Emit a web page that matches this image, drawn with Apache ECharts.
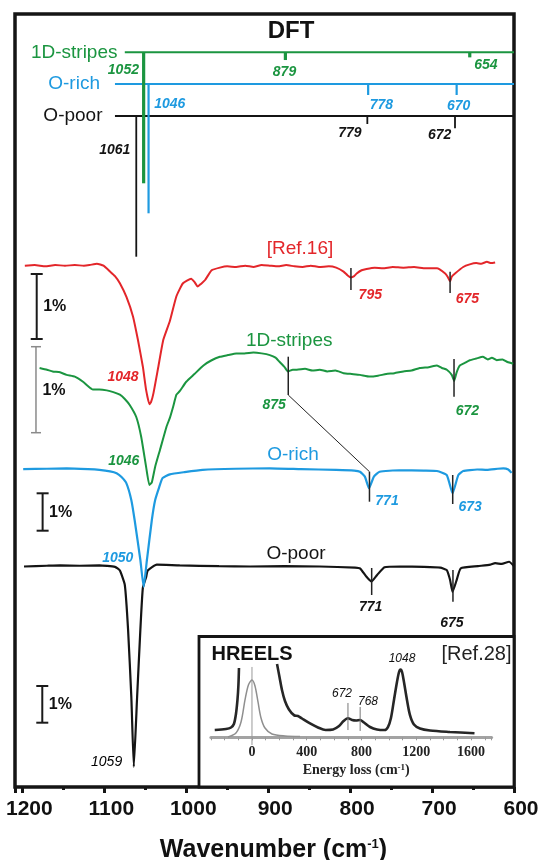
<!DOCTYPE html>
<html><head><meta charset="utf-8">
<script src="https://cdn.jsdelivr.net/npm/echarts@6/dist/echarts.min.js"></script>
<style>html,body{margin:0;padding:0;background:#fff}#c{width:540px;height:860px}</style>
</head><body><div id="c"></div>
<script>
// ---------------- DATA ----------------
const xTickLabels = [1200, 1100, 1000, 900, 800, 700, 600];
const hreelsTickLabels = [0, 400, 800, 1200, 1600];

// IR spectra: wavenumber (cm-1) and transmittance change (%) relative to the trace baseline
const ref16Wn = [1197,1185,1172,1160,1148,1136,1125,1118,1109,1101,1093,1087,1081,1073,1065,1059,1053,1049,1045,1043,1040,1034,1028,1020,1012,1004,994,990,986,982,977,969,959,950,939,928,918,908,898,888,878,868,858,848,838,826,817,808,803,799,795,792,786,780,770,760,748,735,722,708,694,684,681,678,676,672,662,654,646,640,633,628,623];
const ref16Pct = [0.00,0.01,-0.01,0.01,0.00,0.01,0.00,0.01,0.03,0.00,-0.09,-0.16,-0.27,-0.48,-0.78,-1.14,-1.55,-1.91,-2.13,-2.10,-1.96,-1.55,-1.14,-0.85,-0.47,-0.27,-0.20,-0.25,-0.32,-0.28,-0.22,-0.07,-0.03,-0.01,-0.02,0.00,-0.02,0.01,0.00,-0.01,0.01,-0.01,-0.02,0.00,-0.02,-0.01,-0.03,-0.09,-0.15,-0.18,-0.16,-0.12,-0.07,-0.05,-0.03,-0.04,-0.02,-0.03,-0.02,-0.04,-0.04,-0.12,-0.17,-0.24,-0.17,-0.12,-0.02,0.02,0.04,0.03,0.06,0.04,0.05];

const stripesWn = [1179,1170,1163,1154,1146,1136,1126,1120,1114,1106,1097,1089,1081,1075,1069,1061,1055,1049,1045,1042,1038,1032,1024,1020,1016,1012,1008,1000,990,979,969,959,949,939,929,918,908,898,891,886,880,876,870,865,855,846,837,828,818,808,798,788,776,766,756,746,735,725,715,704,694,688,682,676,673,670,666,660,654,646,638,632,627,621,614,608,601];
const stripesPct = [0.00,-0.02,-0.04,-0.05,-0.08,-0.10,-0.16,-0.21,-0.25,-0.25,-0.26,-0.28,-0.31,-0.36,-0.43,-0.57,-0.80,-1.15,-1.36,-1.33,-1.15,-0.95,-0.68,-0.58,-0.45,-0.31,-0.27,-0.16,-0.07,0.03,0.09,0.13,0.15,0.17,0.17,0.18,0.17,0.15,0.12,0.07,0.01,-0.04,-0.02,-0.02,-0.01,-0.03,-0.02,-0.04,-0.03,-0.06,-0.07,-0.08,-0.10,-0.09,-0.07,-0.06,-0.04,-0.03,0.00,0.01,0.03,0.00,-0.02,-0.08,-0.15,-0.05,0.03,0.06,0.09,0.11,0.13,0.10,0.12,0.09,0.10,0.07,0.05];

const oRichWn = [1199,1170,1146,1120,1106,1093,1085,1079,1073,1067,1063,1056,1052,1048,1042,1038,1033,1029,1020,1002,980,940,898,860,817,795,788,782,777,771,764,740,710,694,682,675,668,662,645,633,620,613,607,603];
const oRichPct = [0.01,0.02,0.03,0.01,-0.01,-0.05,-0.10,-0.20,-0.37,-0.82,-1.35,-2.42,-3.14,-2.42,-1.35,-0.82,-0.47,-0.23,-0.13,-0.07,-0.01,0.02,0.03,0.01,-0.01,-0.03,-0.06,-0.19,-0.50,-0.19,-0.06,-0.02,-0.03,-0.04,-0.15,-0.64,-0.15,-0.04,0.00,-0.01,0.02,0.03,0.00,-0.09];

const oPoorWn = [1198,1170,1154,1130,1106,1087,1081,1075,1071,1067,1064,1060,1056,1053,1049,1047,1036,1008,960,922,880,837,794,788,780,774,767,758,739,710,690,682,678,675,670,665,644,629,623,615,606,600];
const oPoorPct = [0.00,0.02,0.03,0.02,0.03,-0.01,-0.11,-0.50,-1.72,-3.57,-5.46,-3.57,-1.72,-0.59,-0.29,-0.11,0.05,0.03,0.01,0.00,0.01,0.00,-0.03,-0.05,-0.28,-0.41,-0.23,-0.02,0.00,-0.01,-0.03,-0.10,-0.37,-0.69,-0.37,-0.05,0.01,0.05,0.09,0.07,0.13,0.01];

// main peak labels of the measured spectra
const ref16Peaks = [1048, 795, 675];
const stripesPeaks = [1046, 875, 672];
const oRichPeaks = [1050, 771, 673];
const oPoorPeaks = [1059, 771, 675];
// wavenumbers where the peak marker lines are drawn
const ref16MarkWn = [799, 678];
const stripesMarkWn = [875.5, 673.2];
const oRichMarkWn = [776.4, 674.8];
const oPoorMarkWn = [773.7, 674.5];

// DFT stick spectra: frequencies (cm-1) and relative intensities
const dftStripesFreq = [1052, 879, 654];
const dftStripesInt = [93.1, 5.5, 3.6];
const dftORichFreq = [1046, 778, 670];
const dftORichInt = [91.9, 7.8, 7.8];
const dftOPoorFreq = [1061, 779, 672];
const dftOPoorInt = [100, 5.7, 8.7];

// HREELS inset (energy loss cm-1, intensity arb. units)
const hreelsE1 = [-272,-190,-153,-132,-117,-106,-99,-95];
const hreelsI1 = [9.4,10.7,12.7,17.2,30.2,48.3,67.7,89.7];
const hreelsE2 = [183,201,219,241,270,310,336,365,424,482,538,592,636,665,701,731,760,789,818,862,913,968,993,1015,1037,1059,1074,1085,1096,1110,1132,1154,1183,1227,1300,1446,1625];
const hreelsI2 = [94.8,78.0,61.2,47.0,36.0,28.2,27.6,24.3,17.9,12.7,9.4,10.1,14.6,20.4,24.6,22.4,21.7,22.4,19.1,13.3,10.1,9.4,13.3,25.0,48.3,71.5,84.5,87.7,84.5,71.5,48.3,28.8,16.6,11.4,8.8,6.9,5.2];
const elasticE = [-175,-117,-80,-51,-26,0,22,44,66,95,146,241,351];
const elasticI = [0.4,5.6,19.8,48.3,67.7,74.1,66.4,45.7,25.0,12.0,4.3,1.7,1.0];
const hreelsPeakLabels = [672, 768, 1048];
const hreelsMarkE = [701, 790];

// ---------------- LAYOUT / STYLE ----------------
const RED = '#e3262a', GREEN = '#1b9540', BLUE = '#1e9ae0', BLACK = '#141414';
const SANS = 'Liberation Sans', SERIF = 'Liberation Serif';
const LAY = {
  ref16:   {base: 521.3, scale: 65},
  stripes: {base: 419,   scale: 86},
  oRich:   {base: 317.5, scale: 37.4},
  oPoor:   {base: 220.5, scale: 36.7}
};
const DFT_SCALE = 1.407;
const DFT_LAY = {
  stripes: {base: 734.7, start: 1075, color: GREEN, stickW: 3.2},
  oRich:   {base: 703,   start: 1087, color: BLUE,  stickW: 2.2},
  oPoor:   {base: 671,   start: 1087, color: BLACK, stickW: 1.8}
};

const series = [];

function trace(wn, pct, lay, color, width) {
  series.push({type: 'line', xAxisIndex: 0, yAxisIndex: 0, silent: true, symbol: 'none', smooth: 0.15,
    data: wn.map((w, i) => [w, lay.base + pct[i] * lay.scale]),
    lineStyle: {color: color, width: width}, z: 3});
}
function segs(data, color, width, xi, z) {
  series.push({type: 'custom', xAxisIndex: xi || 0, yAxisIndex: xi || 0, silent: true, z: z || 4,
    data: data, encode: {x: 0, y: [1, 2]},
    renderItem: function (p, api) {
      const a = api.coord([api.value(0), api.value(1)]);
      const b = api.coord([api.value(0), api.value(2)]);
      return {type: 'line', shape: {x1: a[0], y1: a[1], x2: b[0], y2: b[1]},
        style: {stroke: color, lineWidth: width}};
    }});
}
const labelItems = [];
function lbl(x, y, text, st, pos, xi) {
  labelItems.push({xi: xi || 0, item: {value: [x, y], label: Object.assign({show: true, formatter: String(text),
    position: pos || 'inside', distance: 0, fontFamily: SANS, opacity: 1}, st)}});
}
const numSt = c => ({color: c, fontSize: 14, fontWeight: 'bold', fontStyle: 'italic'});
const nameSt = c => ({color: c, fontSize: 19});

// measured traces
trace(ref16Wn, ref16Pct, LAY.ref16, RED, 2);
trace(stripesWn, stripesPct, LAY.stripes, GREEN, 2);
trace(oPoorWn, oPoorPct, LAY.oPoor, BLACK, 2.2);
trace(oRichWn, oRichPct, LAY.oRich, BLUE, 2.2);

// peak marker lines [wn, top, bottom] (offsets relative to baselines)
const mk = [
  [ref16MarkWn[0], LAY.ref16.base - 2.3, LAY.ref16.base - 24.3],
  [ref16MarkWn[1], LAY.ref16.base - 6, LAY.ref16.base - 27.3],
  [stripesMarkWn[0], LAY.stripes.base + 11.3, LAY.stripes.base - 27],
  [stripesMarkWn[1], LAY.stripes.base + 9, LAY.stripes.base - 28.7],
  [oRichMarkWn[0], LAY.oRich.base - 2.2, LAY.oRich.base - 32.2],
  [oRichMarkWn[1], LAY.oRich.base - 5.5, LAY.oRich.base - 34.5],
  [oPoorMarkWn[0], LAY.oPoor.base - 1.5, LAY.oPoor.base - 28.5],
  [oPoorMarkWn[1], LAY.oPoor.base - 3.5, LAY.oPoor.base - 35.2]
];
segs(mk, '#222', 1.5);
// connector between 875 (1D-stripes) and 771 (O-rich)
series.push({type: 'line', silent: true, symbol: 'none', z: 4,
  data: [[mk[2][0], mk[2][2]], [mk[4][0], mk[4][1]]], lineStyle: {color: '#222', width: 1}});

// DFT stick spectra
[[dftStripesFreq, dftStripesInt, DFT_LAY.stripes], [dftORichFreq, dftORichInt, DFT_LAY.oRich], [dftOPoorFreq, dftOPoorInt, DFT_LAY.oPoor]].forEach(function (d) {
  const L = d[2];
  series.push({type: 'line', silent: true, symbol: 'none', z: 3,
    data: [[L.start, L.base], [600, L.base]], lineStyle: {color: L.color, width: 2}});
  segs(d[0].map((f, i) => [f, L.base, L.base - d[1][i] * DFT_SCALE]), L.color, L.stickW);
});

// 1% scale bars
const bars = [
  {w: 1182.5, top: 513, lay: LAY.ref16, color: '#1a1a1a', lw: 2, cap: 6},
  {w: 1183.4, top: 440.3, lay: LAY.stripes, color: '#8a8a8a', lw: 1.5, cap: 5},
  {w: 1175.3, top: 293.7, lay: LAY.oRich, color: '#1a1a1a', lw: 2, cap: 6},
  {w: 1175.7, top: 101, lay: LAY.oPoor, color: '#1a1a1a', lw: 2, cap: 6}
];
bars.forEach(function (b) {
  series.push({type: 'custom', silent: true, z: 4, data: [[b.w, b.top, b.top - 1 * b.lay.scale]], encode: {x: 0, y: [1, 2]},
    renderItem: function (p, api) {
      const a = api.coord([api.value(0), api.value(1)]);
      const c = api.coord([api.value(0), api.value(2)]);
      const st = {stroke: b.color, lineWidth: b.lw};
      return {type: 'group', children: [
        {type: 'line', shape: {x1: a[0], y1: a[1], x2: c[0], y2: c[1]}, style: st},
        {type: 'line', shape: {x1: a[0] - b.cap, y1: a[1], x2: a[0] + b.cap, y2: a[1]}, style: st},
        {type: 'line', shape: {x1: c[0] - b.cap, y1: c[1], x2: c[0] + b.cap, y2: c[1]}, style: st}]};
    }});
  lbl(b.w - 22, b.top - b.lay.scale / 2 - 0.5, '1%', {color: '#111', fontSize: 16, fontWeight: 'bold'});
});

// labels: DFT section
lbl(872.2, 755.3, 'DFT', {color: '#111', fontSize: 24, fontWeight: 'bold'});
lbl(1083.3, DFT_LAY.stripes.base, '1D-stripes', nameSt(GREEN), 'left');
lbl(1104.7, DFT_LAY.oRich.base, 'O-rich', nameSt(BLUE), 'left');
lbl(1101.6, DFT_LAY.oPoor.base, 'O-poor', nameSt(BLACK), 'left');
[[1076.7, 717], [880.1, 715.3], [634.2, 722]].forEach((p, i) => lbl(p[0], p[1], dftStripesFreq[i], numSt(GREEN)));
[[1020.1, 683], [761.8, 682], [667.6, 681]].forEach((p, i) => lbl(p[0], p[1], dftORichFreq[i], numSt(BLUE)));
[[1087.3, 637], [800.2, 653.7], [690.7, 652]].forEach((p, i) => lbl(p[0], p[1], dftOPoorFreq[i], numSt(BLACK)));

// labels: measured spectra
lbl(861.2, 538.7, '[Ref.16]', nameSt(RED));
lbl(874.4, 446, '1D-stripes', nameSt(GREEN));
lbl(869.7, 332, 'O-rich', nameSt(BLUE));
lbl(866.1, 233.7, 'O-poor', nameSt(BLACK));
[[1077.2, 409.7], [775.4, 492], [656.8, 488]].forEach((p, i) => lbl(p[0], p[1], ref16Peaks[i], numSt(RED)));
[[1076.3, 326.3], [892.7, 382], [656.8, 376]].forEach((p, i) => lbl(p[0], p[1], stripesPeaks[i], numSt(GREEN)));
[[1083.5, 228.7], [755.0, 286.3], [653.5, 279.7]].forEach((p, i) => lbl(p[0], p[1], oRichPeaks[i], numSt(BLUE)));
[[1097.2, 25.3], [775.0, 180.3], [675.7, 163.7]].forEach((p, i) => lbl(p[0], p[1], oPoorPeaks[i], i === 0 ? {color: '#000', fontSize: 14, fontStyle: 'italic'} : numSt(BLACK)));

// ---------------- HREELS inset ----------------
series.push({type: 'line', xAxisIndex: 1, yAxisIndex: 1, silent: true, symbol: 'none', smooth: 0.3, z: 6,
  data: elasticE.map((e, i) => [e, elasticI[i]]), lineStyle: {color: '#8f8f8f', width: 1.5}});
series.push({type: 'line', xAxisIndex: 1, yAxisIndex: 1, silent: true, symbol: 'none', smooth: 0.3, z: 6,
  data: hreelsE1.map((e, i) => [e, hreelsI1[i]]), lineStyle: {color: '#262626', width: 2.6}});
series.push({type: 'line', xAxisIndex: 1, yAxisIndex: 1, silent: true, symbol: 'none', smooth: 0.3, z: 6,
  data: hreelsE2.map((e, i) => [e, hreelsI2[i]]), lineStyle: {color: '#262626', width: 2.6}});
segs([[0, 91, -10]], '#9a9a9a', 1, 1, 6);
segs([[hreelsMarkE[0], 44.4, 9.4], [hreelsMarkE[1], 39.2, 8.2]], '#777', 1, 1, 7);
const inSt = {color: '#111', fontSize: 12, fontStyle: 'italic'};
lbl(657.4, 56.0, hreelsPeakLabels[0], inSt, 'inside', 1);
lbl(847.3, 45.7, hreelsPeakLabels[1], inSt, 'inside', 1);
lbl(1095.7, 101.8, hreelsPeakLabels[2], inSt, 'inside', 1);
lbl(-299.5, 106.5, 'HREELS', {color: '#111', fontSize: 20, fontWeight: 'bold'}, 'right', 1);
lbl(1899, 106.5, '[Ref.28]', {color: '#222', fontSize: 20}, 'left', 1);

[0, 1].forEach(function (xi) {
  series.push({type: 'scatter', xAxisIndex: xi, yAxisIndex: xi, silent: true, clip: false, z: 8,
    symbolSize: 1, itemStyle: {color: 'rgba(0,0,0,0)', opacity: 1},
    data: labelItems.filter(l => l.xi === xi).map(l => l.item)});
});

const chart = echarts.init(document.getElementById('c'), null, {renderer: 'canvas'});
chart.setOption({
  animation: false,
  backgroundColor: '#fff',
  grid: [
    {left: 15, right: 26, top: 14, bottom: 73, show: true, borderColor: '#151515', borderWidth: 3.5, backgroundColor: 'transparent',
      containLabel: false, outerBoundsMode: 'none'},
    {left: 210.9, right: 48.4, top: 660, bottom: 122.7, containLabel: false, outerBoundsMode: 'none'}
  ],
  graphic: [{type: 'rect', z: 1, shape: {x: 199, y: 636.5, width: 315, height: 150.5},
    style: {fill: '#fff', stroke: '#151515', lineWidth: 2.8}}],
  xAxis: [
    {type: 'value', gridIndex: 0, min: 600, max: 1209, interval: 100, inverse: true,
      axisLine: {show: false},
      axisTick: {show: true, inside: false, length: 6, lineStyle: {width: 3, color: '#151515'}},
      minorTick: {show: true, splitNumber: 2, length: 3, lineStyle: {width: 3, color: '#151515'}},
      splitLine: {show: false}, minorSplitLine: {show: false},
      axisLabel: {formatter: v => xTickLabels.includes(v) ? String(v) : '', fontFamily: SANS, fontWeight: 'bold', fontSize: 21, color: '#111', margin: 12, padding: [0, 0, 0, 14]},
      name: 'Wavenumber (cm{sup|-1})', nameLocation: 'middle', nameGap: 51,
      nameTextStyle: {fontFamily: SANS, fontWeight: 'bold', fontSize: 25, color: '#111', padding: [0, 0, 0, 18],
        rich: {sup: {fontFamily: SANS, fontWeight: 'bold', fontSize: 13, verticalAlign: 'top', lineHeight: 14, color: '#111'}}}},
    {type: 'value', gridIndex: 1, min: -300, max: 1750, interval: 100, z: 5,
      axisLine: {show: true, onZero: false, lineStyle: {color: '#a3a3a3', width: 3}},
      axisTick: {show: true, length: 3, lineStyle: {color: '#999', width: 1}},
      splitLine: {show: false},
      axisLabel: {formatter: v => hreelsTickLabels.includes(v) ? String(v) : '', fontFamily: SERIF, fontWeight: 'bold', fontSize: 14, color: '#222', margin: 8},
      name: 'Energy loss (cm{sup|-1})', nameLocation: 'middle', nameGap: 26,
      nameTextStyle: {fontFamily: SERIF, fontWeight: 'bold', fontSize: 14, color: '#222', padding: [0, 0, 0, 10],
        rich: {sup: {fontFamily: SERIF, fontWeight: 'bold', fontSize: 9, verticalAlign: 'top', lineHeight: 9, color: '#222'}}}}
  ],
  yAxis: [
    {type: 'value', gridIndex: 0, min: 0, max: 773, show: false},
    {type: 'value', gridIndex: 1, min: 0, max: 100, show: false}
  ],
  series: series
});
</script></body></html>
